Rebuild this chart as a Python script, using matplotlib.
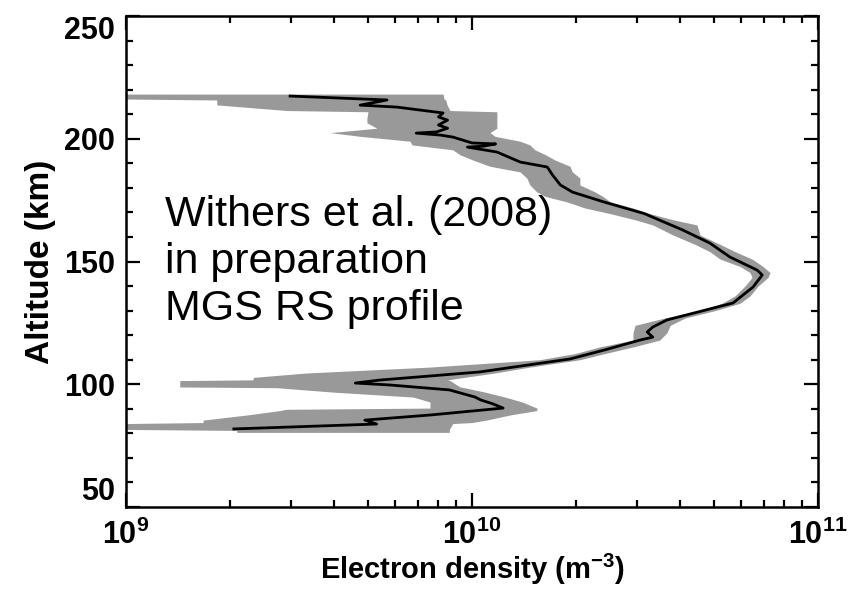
import matplotlib
matplotlib.use('Agg')
import matplotlib.pyplot as plt
from matplotlib.ticker import MultipleLocator, LogLocator, NullFormatter

plt.rcParams['font.family'] = ['Liberation Sans', 'DejaVu Sans']
plt.rcParams['mathtext.fontset'] = 'custom'
plt.rcParams['mathtext.rm'] = 'Liberation Sans'
plt.rcParams['mathtext.bf'] = 'Liberation Sans:bold'

# retrieved electron density profile (altitude in km, density in m^-3)
profile_alt = [81.8, 83.8, 85.4, 87.5, 90.3, 92.0, 93.6, 94.8, 97.7, 99.7,
               100.5, 101.7, 105.0, 110.3, 114.0, 118.0, 119.2, 121.3, 123.3, 126.2,
               133.1, 139.6, 144.5, 146.5, 151.8, 157.5, 162.8, 169.5, 174.3, 178.3,
               181.2, 185.2, 188.5, 190.5, 194.6, 196.6, 197.0, 197.9, 198.3, 200.7,
               201.5, 202.3, 202.8, 204.3, 205.6, 207.6, 208.9, 210.5, 212.9, 213.7,
               215.8, 217.4]
profile_ne = [2.05e9, 5.3e9, 4.9e9, 7.6e9, 1.23e10, 1.15e10, 1.06e10, 1.02e10, 8.6e9, 5.8e9,
              4.6e9, 5.4e9, 1.05e10, 1.92e10, 2.42e10, 3.06e10, 3.33e10, 3.21e10, 3.33e10, 3.66e10,
              5.68e10, 6.49e10, 6.9e10, 6.67e10, 5.57e10, 4.87e10, 4.07e10, 3.15e10, 2.4e10, 1.95e10,
              1.8e10, 1.71e10, 1.65e10, 1.38e10, 1.18e10, 9.7e9, 1.08e10, 1.17e10, 1.0e10, 8.8e9,
              8.1e9, 6.9e9, 7.9e9, 8.5e9, 8.0e9, 8.5e9, 8.0e9, 8.25e9, 6.07e9, 4.75e9,
              5.68e9, 2.98e9]

# uncertainty envelope (lower / upper bound)
band_alt = [80.4, 81.2, 81.6, 84.0, 84.4, 85.4, 87.5, 89.3, 89.8, 90.3,
            92.8, 94.8, 96.8, 98.6, 98.9, 101.5, 101.8, 102.8, 104.6, 107.0,
            110.0, 112.5, 115.2, 118.0, 121.0, 124.0, 127.0, 130.0, 133.0, 136.0,
            140.0, 143.5, 145.5, 148.0, 151.0, 154.0, 157.0, 160.8, 164.9, 167.0,
            169.5, 171.8, 174.3, 176.5, 178.3, 181.2, 184.0, 186.5, 188.8, 191.3,
            193.5, 195.5, 197.5, 199.0, 201.0, 202.5, 204.3, 206.5, 208.5, 210.5,
            211.0, 211.5, 213.8, 215.8, 216.2, 218.2]
band_lo = [2.09e9, 2.09e9, 1.0e9, 1.0e9, 1.67e9, 1.67e9, 2.24e9, 2.79e9, 2.9e9, 7.56e9,
           7.56e9, 6.75e9, 3.97e9, 2.73e9, 1.43e9, 1.43e9, 2.33e9, 2.33e9, 3.33e9, 7.56e9,
           1.57e10, 1.985e10, 2.34e10, 2.92e10, 2.92e10, 2.96e10, 3.61e10, 4.56e10, 5.28e10, 5.76e10,
           6.15e10, 6.45e10, 6.36e10, 5.95e10, 5.21e10, 4.87e10, 4.41e10, 3.81e10, 3.33e10, 2.96e10,
           2.51e10, 2.12e10, 1.88e10, 1.63e10, 1.54e10, 1.47e10, 1.44e10, 1.377e10, 1.127e10, 1.007e10,
           9.23e9, 8.8e9, 6.71e9, 6.62e9, 4.75e9, 3.89e9, 5.31e9, 4.97e9, 4.97e9, 5.0e9,
           5.0e9, 2.92e9, 1.83e9, 1.83e9, 1.0e9, 1.0e9]
band_hi = [8.6e9, 8.6e9, 8.6e9, 8.8e9, 1.0e10, 1.1e10, 1.29e10, 1.54e10, 1.54e10, 1.54e10,
           1.395e10, 1.245e10, 1.09e10, 9.5e9, 9.23e9, 8.64e9, 8.5e9, 9.5e9, 1.165e10, 1.47e10,
           2.05e10, 2.42e10, 2.92e10, 3.49e10, 3.66e10, 3.74e10, 4.13e10, 5.04e10, 5.95e10, 6.36e10,
           6.71e10, 7.17e10, 7.27e10, 6.93e10, 6.45e10, 5.76e10, 5.21e10, 4.56e10, 4.47e10, 3.81e10,
           3.27e10, 2.92e10, 2.51e10, 2.39e10, 2.27e10, 2.05e10, 2.05e10, 1.95e10, 1.92e10, 1.74e10,
           1.63e10, 1.52e10, 1.47e10, 1.377e10, 1.165e10, 1.127e10, 1.18e10, 1.18e10, 1.18e10, 1.18e10,
           1.18e10, 8.64e9, 8.47e9, 8.4e9, 8.3e9, 8.25e9]

xticks = [1e9, 1e10, 1e11]
xtick_labels = [r'$\mathbf{10^{9}}$', r'$\mathbf{10^{10}}$', r'$\mathbf{10^{11}}$']
yticks = [50, 100, 150, 200, 250]

fig = plt.figure(figsize=(8.48, 5.89), dpi=100)
ax = fig.add_axes([0.1486, 0.1392, 0.8160, 0.8336])

ax.fill_betweenx(band_alt, band_lo, band_hi, color='#999999', lw=0)
ax.plot(profile_ne, profile_alt, color='black', lw=2.0)

ax.set_xscale('log')
ax.set_xlim(1e9, 1e11)
ax.set_ylim(50, 250)

ax.set_xticks(xticks)
ax.set_xticklabels(xtick_labels)
ax.xaxis.set_minor_locator(LogLocator(base=10, subs=range(2, 10)))
ax.xaxis.set_minor_formatter(NullFormatter())
ax.set_yticks(yticks)
ax.yaxis.set_minor_locator(MultipleLocator(10))

ax.tick_params(which='both', direction='in', top=True, right=True, width=1.6)
ax.tick_params(which='major', length=10, labelsize=22, pad=8)
ax.tick_params(axis='x', which='major', pad=9)
ax.tick_params(which='minor', length=5)
for lab in ax.get_yticklabels():
    lab.set_fontweight('bold')
ylabs = ax.get_yticklabels()
ylabs[-1].set_verticalalignment('top')
ylabs[0].set_verticalalignment('bottom')

for s in ax.spines.values():
    s.set_linewidth(1.8)

ax.set_xlabel('Electron density (m$^{\\mathbf{-3}}$)', fontsize=21, fontweight='bold', labelpad=1)
ax.set_ylabel('Altitude (km)', fontsize=24, fontweight='bold', labelpad=6)

ax.text(0.056, 0.635, 'Withers et al. (2008)\nin preparation\nMGS RS profile',
        transform=ax.transAxes, fontsize=31, va='top', ha='left', linespacing=1.22)

fig.savefig('out.png', dpi=100)
